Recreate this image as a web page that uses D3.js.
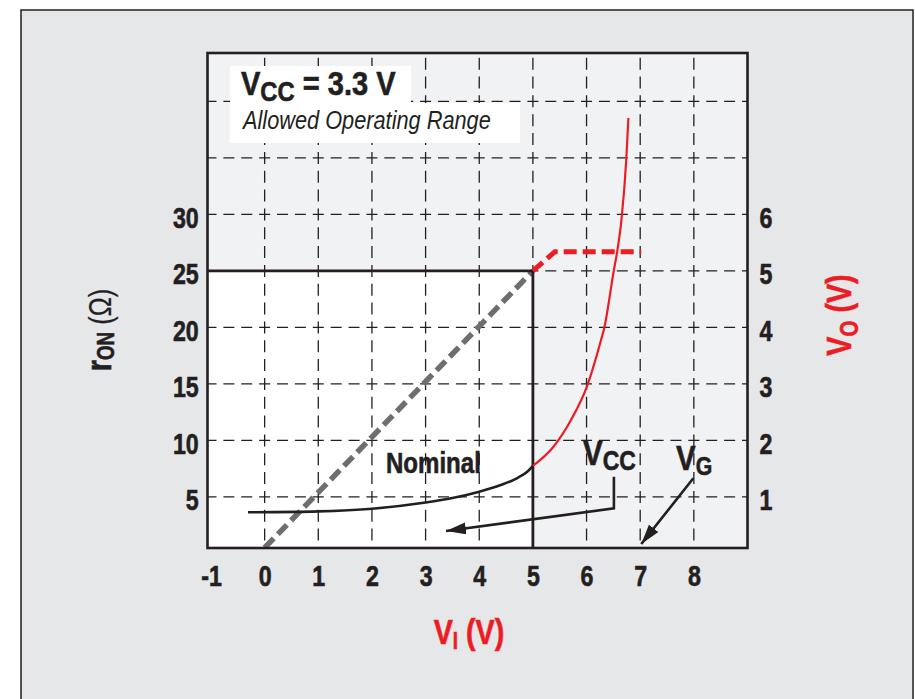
<!DOCTYPE html>
<html><head><meta charset="utf-8">
<script src="https://cdn.jsdelivr.net/npm/d3@7"></script>
<style>
html,body{margin:0;padding:0;background:#fff;}
svg{display:block;}
text{font-family:"Liberation Sans",Arial,Helvetica,sans-serif;font-weight:bold;fill:#231f20;stroke:#231f20;stroke-width:0.6px;}
text.it{stroke:none;font-weight:normal;font-style:italic;}
text.red, text.red tspan{fill:#ed1c24;stroke:#ed1c24;}
tspan.light{font-weight:normal;stroke-width:0.2px;}
</style></head><body>
<svg id="c" width="915" height="699"></svg>
<script>
// ---- data ----
const xTicks = [-1,0,1,2,3,4,5,6,7,8];
const xGrid = [0,1,2,3,4,5,6,7,8];
const rTicks = [5,10,15,20,25,30];
const rGrid = [5,10,15,20,25,30,35,40];
const vTicks = [1,2,3,4,5,6];
// rON vs VI (nominal, black) and beyond VCC (red)
const rOnNominal = [[-0.31,3.64],[1.0,3.72],[2.0,3.95],[3.0,4.5],[3.5,4.9],[4.0,5.46],[4.4,6.05],[4.7,6.65],[4.9,7.25],[5.0,7.75]];
const rOnHigh = [[5.0,7.75],[5.38,9.42],[5.71,11.81],[6.01,14.81],[6.27,18.88],[6.33,19.95],[6.51,25.08],[6.57,26.67],[6.65,29.5],[6.74,34.81],[6.78,38.53]];
// VO vs VI
const voIdeal = [[0,0.1],[5,5]];
const voClamp = [[5,5],[5.41,5.34],[7.02,5.34]];
// annotation arrows (VI, rON)
const vccArrow = [[6.51,6.79],[6.51,3.99],[3.38,1.98]];
const vgArrow = [[7.99,6.65],[7.02,0.83]];
const nominalVI = 5, nominalR = 25;

// ---- layout ----
const L = 207.5, R = 747.5, T = 53, B = 548;
const x = d3.scaleLinear().domain([-1.065, 9.0]).range([L, R]);
const yL = d3.scaleLinear().domain([0.48, 44.28]).range([B, T]);
const yR = d3.scaleLinear().domain([0.48/5, 44.28/5]).range([B, T]);
const INK = "#231f20", RED = "#ed1c24", GRAY = "#6d6e71";
const K = 0.82; // condensed factor

const svg = d3.select("#c");
const defs = svg.append("defs");
// outer frame
svg.append("rect").attr("x",21).attr("y",10).attr("width",892).attr("height",720)
  .attr("fill","#e6e7e8").attr("stroke",INK).attr("stroke-width",1.5);
// plot background
svg.append("rect").attr("x",L).attr("y",T).attr("width",R-L).attr("height",B-T).attr("fill","#f1f2f4");
// nominal region
svg.append("rect").attr("x",L).attr("y",yL(nominalR)).attr("width",x(nominalVI)-L).attr("height",B-yL(nominalR)).attr("fill","#fff");

// grid
const gridG = svg.append("g").attr("stroke",INK).attr("stroke-width",1.3).attr("fill","none");
const px = (x(1)-x(0))/3, dx = 11;
rGrid.forEach(r => {
  const y = yL(r);
  const t0 = x(0) - dx/2 - L;
  gridG.append("line").attr("x1",L).attr("x2",R).attr("y1",y).attr("y2",y)
    .attr("stroke-dasharray",`${dx},${px-dx}`).attr("stroke-dashoffset",-t0);
});
const py = (yL(0)-yL(5))/3, dy = 12;
xGrid.forEach(v => {
  const xx = x(v);
  const t0 = B - yL(5) - dy/2;
  gridG.append("line").attr("x1",xx).attr("x2",xx).attr("y1",B).attr("y2",T)
    .attr("stroke-dasharray",`${dy},${py-dy}`).attr("stroke-dashoffset",-t0);
});

// condensed text helper
function ctext(tx, ty, size, k, rot) {
  const g = svg.append("g").attr("transform",`translate(${tx},${ty})${rot?` rotate(${rot})`:""} scale(${k},1)`);
  return g.append("text").attr("font-size",size);
}

// title boxes
svg.append("rect").attr("x",230).attr("y",66).attr("width",181).attr("height",37).attr("fill","#fff");
svg.append("rect").attr("x",230).attr("y",103).attr("width",290).attr("height",40).attr("fill","#fff");
const t1 = ctext(241, 95, 33, 0.88);
t1.append("tspan").text("V");
t1.append("tspan").attr("font-size",27).attr("dy",6).text("CC");
t1.append("tspan").attr("dy",-6).text(" = 3.3 V");
ctext(243, 129, 25, 0.87).attr("class","it").text("Allowed Operating Range");

// data lines
const lineVO = d3.line().x(d=>x(d[0])).y(d=>yR(d[1]));
const lineR = d3.line().x(d=>x(d[0])).y(d=>yL(d[1])).curve(d3.curveMonotoneX);
defs.append("clipPath").attr("id","clip").append("rect")
  .attr("x",L).attr("y",T).attr("width",R-L).attr("height",B-T);
const plot = svg.append("g").attr("clip-path","url(#clip)");
plot.append("path").datum(voIdeal).attr("d",lineVO).attr("fill","none")
  .attr("stroke",GRAY).attr("stroke-width",5.5).attr("stroke-dasharray","13,6");
plot.append("path").attr("d",`M${L},${yL(nominalR)}H${x(nominalVI)}V${B}`)
  .attr("fill","none").attr("stroke",INK).attr("stroke-width",2.8);
plot.append("path").datum(voClamp).attr("d",lineVO).attr("fill","none")
  .attr("stroke",RED).attr("stroke-width",5).attr("stroke-dasharray","13,6");
plot.append("path").datum(rOnNominal).attr("d",lineR).attr("fill","none")
  .attr("stroke",INK).attr("stroke-width",2.6);
plot.append("path").datum(rOnHigh).attr("d",lineR).attr("fill","none")
  .attr("stroke",RED).attr("stroke-width",2.2);

// plot border
svg.append("rect").attr("x",L).attr("y",T).attr("width",R-L).attr("height",B-T)
  .attr("fill","none").attr("stroke",INK).attr("stroke-width",2.6);

// axes
const axL = svg.append("g").attr("transform",`translate(${L},0)`)
  .call(d3.axisLeft(yL).tickValues(rTicks).tickSize(0).tickPadding(11));
const axR = svg.append("g").attr("transform",`translate(${R},0)`)
  .call(d3.axisRight(yR).tickValues(vTicks).tickSize(0).tickPadding(15));
const axB = svg.append("g").attr("transform",`translate(0,${B})`)
  .call(d3.axisBottom(x).tickValues(xTicks).tickSize(0).tickPadding(17).tickFormat(d => String(d)));
[axL,axR,axB].forEach(a => {
  a.select(".domain").remove();
  a.attr("font-family",null).attr("font-size",null);
  a.selectAll("text").attr("font-size",29).attr("fill",INK).attr("transform",`scale(0.8,1)`);
});
axL.selectAll("text").attr("dy","0.45em");
axR.selectAll("text").attr("dy","0.45em");

// axis titles
const ty = ctext(111, 330, 35, K, -90).attr("text-anchor","middle");
ty.append("tspan").text("r");
ty.append("tspan").attr("font-size",23).attr("dy",3).text("ON");
ty.append("tspan").attr("dy",-3).attr("class","light").attr("font-size",31).text(" (Ω)");

const tr = ctext(851, 315, 35, K, -90).attr("text-anchor","middle").attr("class","red");
tr.append("tspan").text("V");
tr.append("tspan").attr("font-size",25).attr("dy",7).text("O");
tr.append("tspan").attr("dy",-7).text(" (V)");

const tx = ctext(469, 644, 35, K).attr("text-anchor","middle").attr("class","red");
tx.append("tspan").text("V");
tx.append("tspan").attr("font-size",23).attr("dy",5).text("I");
tx.append("tspan").attr("dy",-5).text(" (V)");

// annotations
ctext(386, 473, 29, 0.83).text("Nominal");
const tv = ctext(583, 465, 36, K);
tv.append("tspan").text("V");
tv.append("tspan").attr("font-size",28).attr("dy",5).text("CC");
const tg = ctext(676, 470, 36, K);
tg.append("tspan").text("V");
tg.append("tspan").attr("font-size",26).attr("dy",5).text("G");

defs.append("marker").attr("id","ah").attr("viewBox","0 0 20 12").attr("refX",20).attr("refY",6)
  .attr("markerWidth",20).attr("markerHeight",12).attr("markerUnits","userSpaceOnUse")
  .attr("orient","auto").append("path").attr("d","M0,0L20,6L0,12Z").attr("fill",INK);
const lineA = d3.line().x(d=>x(d[0])).y(d=>yL(d[1]));
[vccArrow, vgArrow].forEach(a => {
  svg.append("path").datum(a).attr("d",lineA).attr("fill","none").attr("stroke",INK)
    .attr("stroke-width",2.6).attr("marker-end","url(#ah)");
});
</script>
</body></html>
